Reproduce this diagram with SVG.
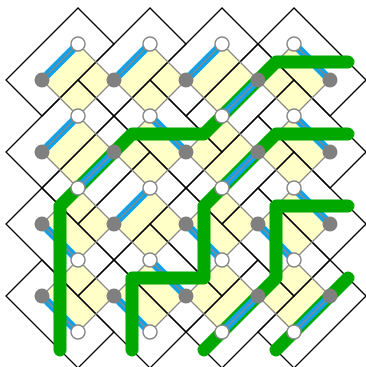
<svg xmlns="http://www.w3.org/2000/svg" width="366" height="367" viewBox="0 0 366 367">
<defs>
<style>
.face{fill:#ffffc8;stroke:none}
.edge{fill:none;stroke:#888888;stroke-width:1.3}
.dom{fill:none;stroke:#000000;stroke-width:1.3;stroke-linejoin:miter}
.dim{stroke:#0ea2ea;stroke-width:8;stroke-linecap:butt}
.dimline{stroke:#888888;stroke-width:1.2}
.path{fill:none;stroke:#00a800;stroke-width:13;stroke-linecap:round;stroke-linejoin:round}
.g{fill:#808080;stroke:none}
.w{fill:#ffffff;stroke:#888888;stroke-width:1.5}
</style>
<polygon id="diamond" points="0,-36 36,0 0,36 -36,0"/>
</defs>
<rect width="366" height="367" fill="#ffffff"/>
<g id="faces">
<use href="#diamond" class="face" x="78" y="80"/><use href="#diamond" class="face" x="150" y="80"/><use href="#diamond" class="face" x="222" y="80"/><use href="#diamond" class="face" x="294" y="80"/>
<use href="#diamond" class="face" x="78" y="152"/><use href="#diamond" class="face" x="150" y="152"/><use href="#diamond" class="face" x="222" y="152"/><use href="#diamond" class="face" x="294" y="152"/>
<use href="#diamond" class="face" x="78" y="224"/><use href="#diamond" class="face" x="150" y="224"/><use href="#diamond" class="face" x="222" y="224"/><use href="#diamond" class="face" x="294" y="224"/>
<use href="#diamond" class="face" x="78" y="296"/><use href="#diamond" class="face" x="150" y="296"/><use href="#diamond" class="face" x="222" y="296"/><use href="#diamond" class="face" x="294" y="296"/>
</g>
<g id="dominoes" class="dom">
<polygon points="114,44 78,8 6,80 42,116"/>
<polygon points="186,44 150,8 78,80 114,116"/>
<polygon points="258,44 222,8 150,80 186,116"/>
<polygon points="186,116 222,152 294,80 258,44"/>
<polygon points="294,8 258,44 330,116 366,80"/>
<polygon points="114,116 78,80 6,152 42,188"/>
<polygon points="42,188 78,224 150,152 114,116"/>
<polygon points="150,80 114,116 186,188 222,152"/>
<polygon points="186,188 222,224 294,152 258,116"/>
<polygon points="294,80 258,116 330,188 366,152"/>
<polygon points="78,296 114,260 42,188 6,224"/>
<polygon points="186,188 150,152 78,224 114,260"/>
<polygon points="222,296 258,260 186,188 150,224"/>
<polygon points="294,296 330,260 258,188 222,224"/>
<polygon points="294,152 258,188 330,260 366,224"/>
<polygon points="78,368 114,332 42,260 6,296"/>
<polygon points="150,368 186,332 114,260 78,296"/>
<polygon points="150,224 114,260 186,332 222,296"/>
<polygon points="186,332 222,368 294,296 258,260"/>
<polygon points="258,332 294,368 366,296 330,260"/>
</g>
<g id="dimers" class="dim">
<line x1="42" y1="80" x2="78" y2="44"/>
<line x1="114" y1="80" x2="150" y2="44"/>
<line x1="186" y1="80" x2="222" y2="44"/>
<line x1="330" y1="80" x2="294" y2="44"/>
<line x1="42" y1="152" x2="78" y2="116"/>
<line x1="186" y1="152" x2="150" y2="116"/>
<line x1="330" y1="152" x2="294" y2="116"/>
<line x1="42" y1="224" x2="78" y2="260"/>
<line x1="114" y1="224" x2="150" y2="188"/>
<line x1="186" y1="224" x2="222" y2="260"/>
<line x1="258" y1="224" x2="294" y2="260"/>
<line x1="330" y1="224" x2="294" y2="188"/>
<line x1="42" y1="296" x2="78" y2="332"/>
<line x1="114" y1="296" x2="150" y2="332"/>
<line x1="186" y1="296" x2="150" y2="260"/>
</g>
<g id="edges">
<use href="#diamond" class="edge" x="78" y="80"/><use href="#diamond" class="edge" x="150" y="80"/><use href="#diamond" class="edge" x="222" y="80"/><use href="#diamond" class="edge" x="294" y="80"/>
<use href="#diamond" class="edge" x="78" y="152"/><use href="#diamond" class="edge" x="150" y="152"/><use href="#diamond" class="edge" x="222" y="152"/><use href="#diamond" class="edge" x="294" y="152"/>
<use href="#diamond" class="edge" x="78" y="224"/><use href="#diamond" class="edge" x="150" y="224"/><use href="#diamond" class="edge" x="222" y="224"/><use href="#diamond" class="edge" x="294" y="224"/>
<use href="#diamond" class="edge" x="78" y="296"/><use href="#diamond" class="edge" x="150" y="296"/><use href="#diamond" class="edge" x="222" y="296"/><use href="#diamond" class="edge" x="294" y="296"/>
</g>
<g id="paths" class="path">
<path d="M60,350 L60,206 L132,134 L204,134 L276,62 L348,62"/>
<path d="M348,134 L276,134 L204,206 L204,278 L132,278 L132,350"/>
<path d="M348,206 L276,206 L276,278 L204,350"/>
<path d="M276,350 L348,278"/>
</g>
<g id="path-dimers">
<g class="dim">
<line x1="258" y1="80" x2="222" y2="116"/>
<line x1="114" y1="152" x2="78" y2="188"/>
<line x1="258" y1="152" x2="222" y2="188"/>
<line x1="258" y1="296" x2="222" y2="332"/>
<line x1="330" y1="296" x2="294" y2="332"/>
</g>
<g class="dimline">
<line x1="258" y1="80" x2="222" y2="116"/>
<line x1="114" y1="152" x2="78" y2="188"/>
<line x1="258" y1="152" x2="222" y2="188"/>
<line x1="258" y1="296" x2="222" y2="332"/>
<line x1="330" y1="296" x2="294" y2="332"/>
</g>
</g>
<g id="vertices">
<g id="gray-vertices" class="g">
<circle cx="42" cy="80" r="7.5"/><circle cx="114" cy="80" r="7.5"/><circle cx="186" cy="80" r="7.5"/><circle cx="258" cy="80" r="7.5"/><circle cx="330" cy="80" r="7.5"/>
<circle cx="42" cy="152" r="7.5"/><circle cx="114" cy="152" r="7.5"/><circle cx="186" cy="152" r="7.5"/><circle cx="258" cy="152" r="7.5"/><circle cx="330" cy="152" r="7.5"/>
<circle cx="42" cy="224" r="7.5"/><circle cx="114" cy="224" r="7.5"/><circle cx="186" cy="224" r="7.5"/><circle cx="258" cy="224" r="7.5"/><circle cx="330" cy="224" r="7.5"/>
<circle cx="42" cy="296" r="7.5"/><circle cx="114" cy="296" r="7.5"/><circle cx="186" cy="296" r="7.5"/><circle cx="258" cy="296" r="7.5"/><circle cx="330" cy="296" r="7.5"/>
</g>
<g id="white-vertices" class="w">
<circle cx="78" cy="44" r="7"/><circle cx="150" cy="44" r="7"/><circle cx="222" cy="44" r="7"/><circle cx="294" cy="44" r="7"/>
<circle cx="78" cy="116" r="7"/><circle cx="150" cy="116" r="7"/><circle cx="222" cy="116" r="7"/><circle cx="294" cy="116" r="7"/>
<circle cx="78" cy="188" r="7"/><circle cx="150" cy="188" r="7"/><circle cx="222" cy="188" r="7"/><circle cx="294" cy="188" r="7"/>
<circle cx="78" cy="260" r="7"/><circle cx="150" cy="260" r="7"/><circle cx="222" cy="260" r="7"/><circle cx="294" cy="260" r="7"/>
<circle cx="78" cy="332" r="7"/><circle cx="150" cy="332" r="7"/><circle cx="222" cy="332" r="7"/><circle cx="294" cy="332" r="7"/>
</g>
</g>
</svg>
